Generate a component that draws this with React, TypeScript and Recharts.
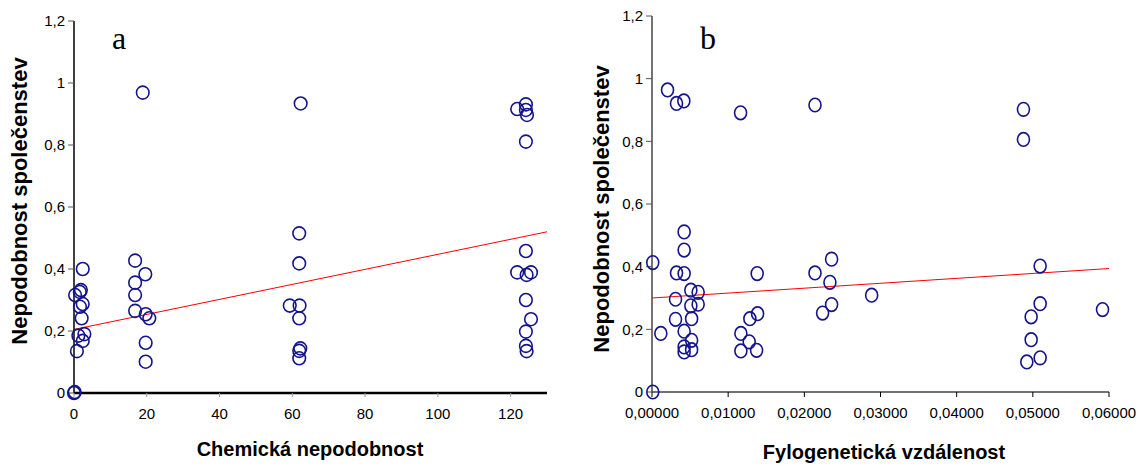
import React from 'react';
import { ScatterChart, Scatter, XAxis, YAxis, ReferenceLine } from 'recharts';

// a) chemical dissimilarity vs community dissimilarity
const chemX = [0, 0.2, 0.3, 1.9, 1.6, 2.4, 2.4, 1.65, 2.1, 2.85, 1.2, 2.4, 0.8,
  16.8, 19.6, 16.8, 16.8, 16.8, 19.7, 20.7, 19.7, 19.7, 18.9,
  62.3, 61.9, 61.9, 59.3, 62, 61.9, 62.2, 61.9, 61.9,
  124.2, 121.8, 124.2, 124.5, 124.2, 124.2, 121.8, 124.4, 125.6, 124.2, 125.6, 124.2, 124.2, 124.4];
const chemY = [0, 0.003, 0.316, 0.332, 0.326, 0.4, 0.287, 0.278, 0.241, 0.19, 0.185, 0.168, 0.135,
  0.427, 0.383, 0.356, 0.316, 0.265, 0.254, 0.241, 0.162, 0.101, 0.969,
  0.934, 0.515, 0.418, 0.282, 0.282, 0.241, 0.144, 0.136, 0.112,
  0.931, 0.916, 0.913, 0.897, 0.811, 0.458, 0.389, 0.381, 0.389, 0.3, 0.238, 0.198, 0.152, 0.135];
const chemTrend = [{ x: 0, y: 0.205 }, { x: 130, y: 0.52 }];
const chemTicks = [0, 20, 40, 60, 80, 100, 120];

// b) phylogenetic distance vs community dissimilarity
const phyloX = [0.00204, 0.00322, 0.00418, 0.01163, 0.0001, 0.00422, 0.00422, 0.00322, 0.00422, 0.0051,
  0.00606, 0.00309, 0.0051, 0.00606, 0.00309, 0.0052, 0.00116, 0.00422, 0.00422, 0.0052,
  0.0052, 0.00422, 0.0001, 0.01167, 0.01276, 0.01167, 0.01373, 0.01381, 0.01285, 0.01386,
  0.0214, 0.04877, 0.04877, 0.0214, 0.02358, 0.02336, 0.02358, 0.0224, 0.02884,
  0.05096, 0.05096, 0.04978, 0.04978, 0.04921, 0.05096, 0.05915];
const phyloY = [0.964, 0.921, 0.929, 0.891, 0.413, 0.511, 0.453, 0.38, 0.378, 0.325,
  0.318, 0.296, 0.275, 0.28, 0.232, 0.234, 0.187, 0.194, 0.144, 0.165,
  0.135, 0.128, 0.0, 0.187, 0.16, 0.131, 0.133, 0.378, 0.234, 0.25,
  0.916, 0.902, 0.806, 0.38, 0.424, 0.35, 0.279, 0.252, 0.309,
  0.402, 0.282, 0.24, 0.167, 0.096, 0.109, 0.263];
const phyloTrend = [{ x: 0, y: 0.3 }, { x: 0.06, y: 0.394 }];
const phyloTicks = [0, 0.01, 0.02, 0.03, 0.04, 0.05, 0.06];

const yTicks = [0, 0.2, 0.4, 0.6, 0.8, 1, 1.2];

const chemData = chemX.map((x, i) => ({ x, y: chemY[i] }));
const phyloData = phyloX.map((x, i) => ({ x, y: phyloY[i] }));

const comma = (v: number) => String(v).replace('.', ',');
const font = '"Liberation Sans", Arial, sans-serif';

const Ring = (rx: number, ry: number) => (props: any) => (
  <ellipse cx={props.cx} cy={props.cy} rx={rx} ry={ry} fill="none" stroke="#14148c" strokeWidth={1.6} />
);

const yTitle: React.CSSProperties = {
  position: 'absolute', transform: 'translate(-50%,-50%) rotate(-90deg)', whiteSpace: 'nowrap',
  fontFamily: font, fontWeight: 'bold', fontSize: 22, color: '#000',
};
const xTitle: React.CSSProperties = {
  position: 'absolute', transform: 'translate(-50%,-50%)', whiteSpace: 'nowrap',
  fontFamily: font, fontWeight: 'bold', fontSize: 20, color: '#000',
};
const letter: React.CSSProperties = {
  position: 'absolute', fontFamily: '"Liberation Serif", "Times New Roman", serif', fontSize: 32, lineHeight: 1, color: '#000',
};

export default function App() {
  return (
    <div style={{ position: 'fixed', left: 0, top: 0, width: 1144, height: 466, background: '#fff' }}>
      <div style={{ position: 'absolute', left: 0, top: 0 }}>
        <ScatterChart width={580} height={466} margin={{ top: 21, right: 33, bottom: 33, left: 14 }}>
          <XAxis type="number" dataKey="x" domain={[0, 130]} ticks={chemTicks} height={40}
            axisLine={{ stroke: '#000', strokeWidth: 2.5 }} tickLine={{ stroke: '#999' }} tickSize={4} tickMargin={11}
            tick={{ fill: '#000', fontSize: 15, fontFamily: font }} />
          <YAxis type="number" dataKey="y" domain={[0, 1.2]} ticks={yTicks} width={60} tickFormatter={comma}
            axisLine={{ stroke: '#000', strokeWidth: 1.5 }} tickLine={{ stroke: '#555' }} tickSize={6} tickMargin={3}
            tick={{ fill: '#000', fontSize: 15, fontFamily: font }} />
          <ReferenceLine segment={chemTrend} stroke="#ff0000" strokeWidth={1} ifOverflow="visible" />
          <Scatter data={chemData} shape={Ring(6.3, 6.5)} isAnimationActive={false} />
        </ScatterChart>
      </div>
      <div style={{ position: 'absolute', left: 580, top: 0 }}>
        <ScatterChart width={564} height={466} margin={{ top: 16, right: 35, bottom: 34, left: 12 }}>
          <XAxis type="number" dataKey="x" domain={[0, 0.06]} ticks={phyloTicks} height={40}
            tickFormatter={(v: number) => v.toFixed(5).replace('.', ',')}
            axisLine={{ stroke: '#444', strokeWidth: 1.5 }} tickLine={{ stroke: '#000' }} tickSize={5} tickMargin={10}
            tick={{ fill: '#000', fontSize: 15, fontFamily: font }} />
          <YAxis type="number" dataKey="y" domain={[0, 1.2]} ticks={yTicks} width={60} tickFormatter={comma}
            axisLine={{ stroke: '#444', strokeWidth: 1.5 }} tickLine={{ stroke: '#555' }} tickSize={6} tickMargin={3}
            tick={{ fill: '#000', fontSize: 15, fontFamily: font }} />
          <ReferenceLine segment={phyloTrend} stroke="#ff0000" strokeWidth={1} ifOverflow="visible" />
          <Scatter data={phyloData} shape={Ring(6, 6.8)} isAnimationActive={false} />
        </ScatterChart>
      </div>
      <div style={{ ...yTitle, left: 20, top: 201 }}>Nepodobnost společenstev</div>
      <div style={{ ...yTitle, left: 602, top: 209 }}>Nepodobnost společenstev</div>
      <div style={{ ...xTitle, left: 310, top: 449 }}>Chemická nepodobnost</div>
      <div style={{ ...xTitle, left: 884, top: 452 }}>Fylogenetická vzdálenost</div>
      <div style={{ ...letter, left: 112, top: 22 }}>a</div>
      <div style={{ ...letter, left: 700, top: 22 }}>b</div>
    </div>
  );
}
